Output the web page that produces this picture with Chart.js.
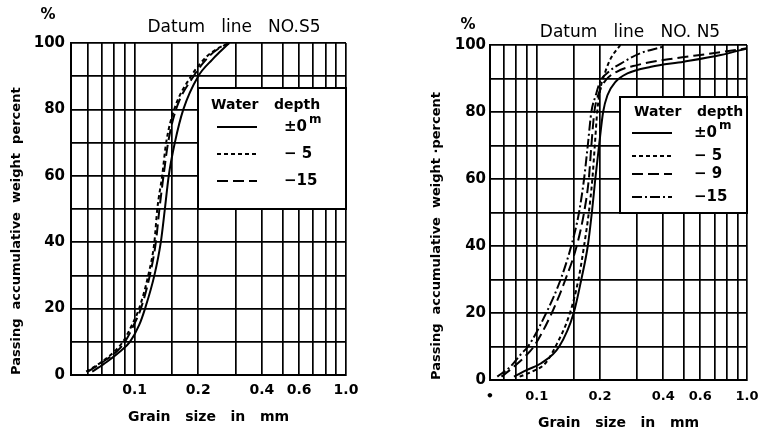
<!DOCTYPE html>
<html>
<head>
<meta charset="utf-8">
<script src="https://cdn.jsdelivr.net/npm/chart.js@4.4.1/dist/chart.umd.min.js"></script>
<style>
    html, body { margin: 0; padding: 0; background: #fff; }
    #wrap { position: relative; width: 759px; height: 432px; overflow: hidden; }
    .panel { position: absolute; top: 0; width: 380px; height: 432px; }
</style>
</head>
<body>
<div id="wrap">
    <div class="panel" style="left:0"><canvas id="s5" width="380" height="432"></canvas></div>
    <div class="panel" style="left:379px"><canvas id="n5" width="380" height="432"></canvas></div>
</div>
<script>
    // grain size (mm) against passing percent

    // Datum line NO.S5
    var s5Size0 = [0.063, 0.074, 0.085, 0.095, 0.105, 0.112, 0.124, 0.133, 0.139, 0.145, 0.155, 0.17, 0.2, 0.233, 0.255, 0.28];
    var s5Pct0 = [1, 4, 7, 10, 15, 20, 30, 40, 50, 60, 70, 80, 90, 95, 97.5, 100];
    var s5Size5 = [0.059, 0.07, 0.08, 0.088, 0.097, 0.105, 0.116, 0.124, 0.128, 0.135, 0.141, 0.154, 0.185, 0.22, 0.25, 0.28];
    var s5Pct5 = [1, 4, 7, 10, 15, 20, 30, 40, 50, 60, 70, 80, 90, 96, 98.5, 100];
    var s5Size15 = [0.06, 0.071, 0.082, 0.09, 0.099, 0.107, 0.118, 0.126, 0.131, 0.137, 0.144, 0.157, 0.19, 0.225, 0.252, 0.28];
    var s5Pct15 = [1, 4, 7, 10, 15, 20, 30, 40, 50, 60, 70, 80, 90, 96, 98.5, 100];

    // Datum line NO.N5
    var n5Size0 = [0.078, 0.09, 0.105, 0.128, 0.15, 0.163, 0.175, 0.183, 0.19, 0.198, 0.207, 0.217, 0.237, 0.27, 0.35, 0.5, 0.75, 1.0];
    var n5Pct0 = [1, 3, 5, 10, 20, 30, 40, 50, 60, 70, 80, 85, 89, 91.5, 93.5, 95, 97, 99];
    var n5Size5 = [0.083, 0.095, 0.11, 0.123, 0.144, 0.158, 0.168, 0.177, 0.184, 0.189, 0.194, 0.201, 0.212, 0.225, 0.25];
    var n5Pct5 = [1, 2.5, 5, 10, 20, 30, 40, 50, 60, 70, 80, 87, 92, 96, 100];
    var n5Size9 = [0.068, 0.078, 0.088, 0.097, 0.118, 0.137, 0.155, 0.168, 0.177, 0.182, 0.188, 0.196, 0.21, 0.24, 0.3, 0.45, 0.65, 1.0];
    var n5Pct9 = [1, 4, 7, 10, 20, 30, 40, 50, 60, 70, 80, 85, 89, 92, 94, 96, 97.3, 99];
    var n5Size15 = [0.065, 0.075, 0.085, 0.091, 0.111, 0.13, 0.146, 0.159, 0.168, 0.175, 0.182, 0.191, 0.2, 0.22, 0.26, 0.31, 0.4];
    var n5Pct15 = [1, 4, 8, 10, 20, 30, 40, 50, 60, 70, 80, 85, 89, 92, 95, 97.5, 99.5];

    // axes
    var s5GridSizes = [0.05, 0.06, 0.07, 0.08, 0.09, 0.1, 0.15, 0.2, 0.3, 0.4, 0.5, 0.6, 0.7, 0.8, 0.9, 1.0];
    var n5GridSizes = [0.06, 0.07, 0.08, 0.09, 0.1, 0.15, 0.2, 0.3, 0.4, 0.5, 0.6, 0.7, 0.8, 0.9, 1.0];
    var s5SizeTicks = [0.1, 0.2, 0.4, 0.6, 1.0];
    var s5SizeLabels = ['0.1', '0.2', '0.4', '0.6', '1.0'];
    var n5SizeTicks = [0.06, 0.1, 0.2, 0.4, 0.6, 1.0];
    var n5SizeLabels = ['•', '0.1', '0.2', '0.4', '0.6', '1.0'];
    var pctLabelled = [0, 20, 40, 60, 80, 100];

    var s5Depths = ['±0', '− 5', '−15'];
    var n5Depths = ['±0', '− 5', '− 9', '−15'];

    var FONT = "'DejaVu Sans', sans-serif";
    Chart.defaults.font.family = FONT;
    Chart.defaults.color = '#000';

    var SOLID = [], SHORT = [4, 3], LONG = [11, 5], DASHDOT = [10, 3, 2, 3];

    function pts(sizes, pcts) {
        return sizes.map(function (s, i) { return { x: s, y: pcts[i] }; });
    }

    function curve(label, sizes, pcts, dash) {
        return {
            label: label,
            data: pts(sizes, pcts),
            borderColor: '#000',
            borderWidth: 2,
            borderDash: dash,
            pointRadius: 0,
            fill: false,
            cubicInterpolationMode: 'monotone'
        };
    }

    // heading, % mark and the boxed depth legend
    var deco = {
        id: 'deco',
        afterDatasetsDraw: function (chart, args, o) {
            var ctx = chart.ctx, xs = chart.scales.x, ys = chart.scales.y, area = chart.chartArea;
            ctx.save();
            ctx.fillStyle = '#000';
            ctx.textBaseline = 'middle';

            ctx.font = '17px ' + FONT;
            ctx.textAlign = 'center';
            ctx.fillText(o.title, o.titleX, o.titleY);
            ctx.font = 'bold 15px ' + FONT;
            ctx.fillText('%', o.pctX, o.pctY);

            var bl = Math.round(xs.getPixelForValue(o.boxFrom));
            var bt = Math.round(ys.getPixelForValue(o.boxTop));
            var bb = Math.round(ys.getPixelForValue(o.boxBottom));
            var br = area.right;
            ctx.fillStyle = '#fff';
            ctx.fillRect(bl, bt, br - bl, bb - bt);
            ctx.strokeStyle = '#000';
            ctx.lineWidth = 2;
            ctx.strokeRect(bl, bt, br - bl, bb - bt);

            ctx.fillStyle = '#000';
            ctx.textAlign = 'left';
            ctx.font = 'bold 14px ' + FONT;
            ctx.fillText('Water', bl + o.waterDx, bt + o.headDy);
            ctx.fillText('depth', bl + o.depthDx, bt + o.headDy);

            chart.data.datasets.forEach(function (ds, i) {
                var y = bt + o.rowDy[i];
                ctx.beginPath();
                ctx.setLineDash(ds.borderDash);
                ctx.lineWidth = 2;
                ctx.moveTo(bl + o.sampleX[0], y);
                ctx.lineTo(bl + o.sampleX[1], y);
                ctx.stroke();
                ctx.setLineDash([]);
                ctx.font = 'bold 15px ' + FONT;
                var lx = bl + o.labelDx;
                ctx.fillText(ds.label, lx, y);
                if (i === 0) {
                    var w = ctx.measureText(ds.label).width;
                    ctx.font = 'bold 12px ' + FONT;
                    ctx.fillText('m', lx + w + 2, y - 7);
                }
            });
            ctx.restore();
        }
    };

    function makeChart(id, datasets, opt) {
        return new Chart(document.getElementById(id), {
            type: 'line',
            data: { datasets: datasets },
            plugins: [deco],
            options: {
                responsive: false,
                animation: false,
                layout: { padding: opt.padding },
                plugins: {
                    legend: { display: false },
                    tooltip: { enabled: false },
                    deco: opt.deco
                },
                scales: {
                    x: {
                        type: 'logarithmic',
                        min: opt.gridSizes[0],
                        max: 1.0,
                        afterBuildTicks: function (scale) {
                            scale.ticks = opt.gridSizes.map(function (v) { return { value: v }; });
                        },
                        afterFit: function (scale) {
                            scale.height = opt.xHeight;
                            // labels may hang past the frame, the outer padding covers them
                            scale.paddingLeft = 0;
                            scale.paddingRight = 0;
                        },
                        grid: { color: '#000', lineWidth: 1.7, drawTicks: false },
                        border: { display: true, color: '#000', width: 2 },
                        ticks: {
                            autoSkip: false,
                            maxRotation: 0,
                            padding: opt.xTickPad,
                            font: { size: opt.xTickSize, weight: 'bold' },
                            callback: function (v) {
                                for (var i = 0; i < opt.sizeTicks.length; i++) {
                                    if (Math.abs(opt.sizeTicks[i] - v) < 1e-6) return opt.sizeLabels[i];
                                }
                                return '';
                            }
                        },
                        title: {
                            display: true,
                            text: 'Grain   size   in   mm',
                            font: { size: 14, weight: 'bold' },
                            padding: { top: 0, bottom: opt.xTitlePad }
                        }
                    },
                    y: {
                        type: 'linear',
                        min: 0,
                        max: 100,
                        afterFit: function (scale) { scale.width = opt.yWidth; },
                        grid: { color: '#000', lineWidth: 1.7, drawTicks: false },
                        border: { display: true, color: '#000', width: 2 },
                        ticks: {
                            stepSize: 10,
                            padding: opt.yTickPad,
                            font: { size: 15, weight: 'bold' },
                            callback: function (v) {
                                return pctLabelled.indexOf(v) >= 0 ? String(v) : '';
                            }
                        },
                        title: {
                            display: true,
                            align: 'start',
                            text: opt.yTitle,
                            font: { size: 13, weight: 'bold' },
                            padding: { top: opt.yTitlePad, bottom: 0 }
                        }
                    }
                }
            }
        });
    }

    makeChart('s5', [
        curve(s5Depths[0], s5Size0, s5Pct0, SOLID),
        curve(s5Depths[1], s5Size5, s5Pct5, SHORT),
        curve(s5Depths[2], s5Size15, s5Pct15, LONG)
    ], {
        padding: { top: 43, right: 34, bottom: 0, left: 0 },
        gridSizes: s5GridSizes,
        sizeTicks: s5SizeTicks,
        sizeLabels: s5SizeLabels,
        xHeight: 57,
        yWidth: 71,
        xTickSize: 14,
        xTickPad: 7,
        yTickPad: 6,
        xTitlePad: 6,
        yTitlePad: 9,
        yTitle: 'Passing  accumulative  weight  percent',
        deco: {
            title: 'Datum   line   NO.S5', titleX: 234, titleY: 28, pctX: 48, pctY: 15,
            boxFrom: 0.2, boxTop: 86.5, boxBottom: 50,
            waterDx: 13, depthDx: 76, headDy: 17,
            rowDy: [39, 66, 93], sampleX: [19, 59], labelDx: 86
        }
    });

    makeChart('n5', [
        curve(n5Depths[0], n5Size0, n5Pct0, SOLID),
        curve(n5Depths[1], n5Size5, n5Pct5, SHORT),
        curve(n5Depths[2], n5Size9, n5Pct9, LONG),
        curve(n5Depths[3], n5Size15, n5Pct15, DASHDOT)
    ], {
        padding: { top: 45, right: 12, bottom: 0, left: 0 },
        gridSizes: n5GridSizes,
        sizeTicks: n5SizeTicks,
        sizeLabels: n5SizeLabels,
        xHeight: 52,
        yWidth: 111,
        xTickSize: 13,
        xTickPad: 9,
        yTickPad: 4,
        xTitlePad: 0,
        yTitlePad: 50,
        yTitle: 'Passing  accumulative  weight ·percent',
        deco: {
            title: 'Datum   line   NO. N5', titleX: 251, titleY: 33, pctX: 89, pctY: 25,
            boxFrom: 0.25, boxTop: 84.5, boxBottom: 50,
            waterDx: 14, depthDx: 77, headDy: 15,
            rowDy: [36, 59, 77, 100], sampleX: [12, 52], labelDx: 74
        }
    });
</script>
</body>
</html>
